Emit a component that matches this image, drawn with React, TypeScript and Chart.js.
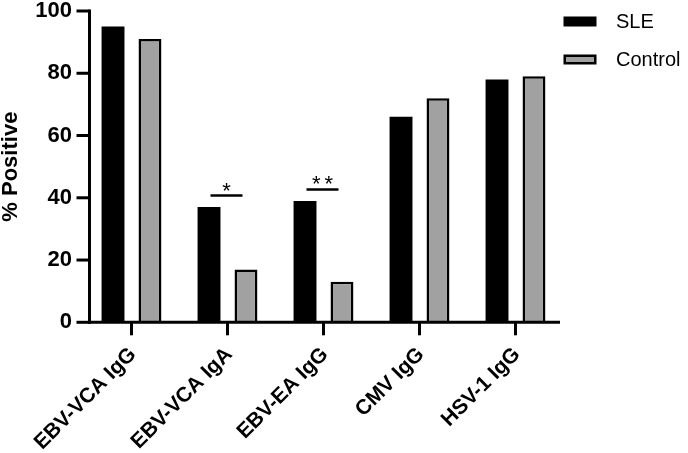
import { useEffect, useRef } from 'react';
import { Chart, registerables } from 'chart.js';

Chart.register(...registerables);

const categories = ['EBV-VCA IgG', 'EBV-VCA IgA', 'EBV-EA IgG', 'CMV IgG', 'HSV-1 IgG'];
const seriesNames = ['SLE', 'Control'];
const sleValues = [95, 37, 39, 66, 78];
const controlValues = [91, 17, 13, 72, 79];
const significance = ['', '*', '**', '', ''];
const yTickValues = [0, 20, 40, 60, 80, 100];
const yAxisTitle = '% Positive';

const FONT = '"Liberation Sans", Arial, Helvetica, sans-serif';
const SLE_COLOR = '#000000';
const CONTROL_COLOR = '#a1a1a1';

const overlayPlugin = {
  id: 'overlay',
  afterDraw(chart: any) {
    const ctx: CanvasRenderingContext2D = chart.ctx;
    const area = chart.chartArea;
    const xs = chart.scales.x;
    const ys = chart.scales.y;
    const axisX = area.left + 6;
    const axisY = ys.getPixelForValue(0);
    const topY = ys.getPixelForValue(yTickValues[yTickValues.length - 1]);

    const seg = (x1: number, y1: number, x2: number, y2: number, w = 3) => {
      ctx.lineWidth = w;
      ctx.beginPath();
      ctx.moveTo(x1, y1);
      ctx.lineTo(x2, y2);
      ctx.stroke();
    };

    ctx.save();
    ctx.strokeStyle = '#000';
    ctx.fillStyle = '#000';
    ctx.lineCap = 'butt';

    // axes
    seg(axisX, topY - 1.5, axisX, axisY + 1.5);
    seg(axisX - 1.5, axisY, area.right - 3.5, axisY);

    // y tick marks
    yTickValues.forEach((v) => {
      const py = ys.getPixelForValue(v);
      seg(axisX - 13, py, axisX, py);
    });

    // x tick marks and labels
    ctx.font = `bold 21px ${FONT}`;
    categories.forEach((c, i) => {
      const px = xs.getPixelForValue(i);
      seg(px, axisY, px, axisY + 13);
      ctx.save();
      ctx.translate(px + 1.5, axisY + 29);
      ctx.rotate(-Math.PI / 4);
      ctx.textAlign = 'right';
      ctx.textBaseline = 'middle';
      ctx.fillText(c, 0, 0);
      ctx.restore();
    });

    // significance markers
    significance.forEach((s, i) => {
      if (!s) return;
      const maxV = Math.max(sleValues[i], controlValues[i]);
      const ly = ys.getPixelForValue(maxV) - 11.5;
      const cx = xs.getPixelForValue(i) - 1;
      seg(cx - 16, ly, cx + 16, ly, 2.5);
      ctx.save();
      ctx.font = `22px ${FONT}`;
      ctx.textAlign = 'center';
      ctx.textBaseline = 'alphabetic';
      (ctx as any).letterSpacing = s.length > 1 ? '4px' : '0px';
      ctx.fillText(s, cx + (s.length > 1 ? 2 : 0), ly + 2);
      ctx.restore();
    });

    // legend
    const lx = 563.5;
    const colors = [SLE_COLOR, CONTROL_COLOR];
    const rows = [21.5, 59.5];
    ctx.font = `20px ${FONT}`;
    ctx.textAlign = 'left';
    ctx.textBaseline = 'middle';
    seriesNames.forEach((name, k) => {
      const cy = rows[k];
      ctx.fillStyle = '#000';
      ctx.fillRect(lx, cy - 5, 33, 10);
      if (k === 1) {
        ctx.fillStyle = colors[k];
        ctx.fillRect(lx + 2.5, cy - 2.5, 28, 5);
      }
      ctx.fillStyle = '#000';
      ctx.fillText(name, 616, cy + 1);
    });

    ctx.restore();
  },
};

export default function App() {
  const ref = useRef<HTMLCanvasElement>(null);

  useEffect(() => {
    const canvas = ref.current;
    if (!canvas) return;
    const chart = new Chart(canvas, {
      type: 'bar',
      data: {
        labels: categories,
        datasets: [
          {
            label: seriesNames[0],
            data: sleValues,
            backgroundColor: SLE_COLOR,
            borderColor: SLE_COLOR,
            borderWidth: 0,
            categoryPercentage: 0.77,
            barPercentage: 0.62,
          },
          {
            label: seriesNames[1],
            data: controlValues,
            backgroundColor: CONTROL_COLOR,
            borderColor: '#000',
            borderWidth: 2.5,
            categoryPercentage: 0.77,
            barPercentage: 0.62,
          },
        ],
      },
      options: {
        responsive: false,
        animation: false,
        devicePixelRatio: 1,
        layout: { padding: { left: 0, right: 124.5, top: 11, bottom: 0 } },
        plugins: {
          legend: { display: false },
          tooltip: { enabled: false },
          title: { display: false },
        },
        scales: {
          x: {
            type: 'category',
            offset: true,
            grid: { display: false, drawTicks: false },
            border: { display: false },
            ticks: { display: false },
            afterFit: (s: any) => {
              s.height = 130.7;
              s.paddingLeft = 0;
              s.paddingRight = 0;
            },
          },
          y: {
            type: 'linear',
            min: 0,
            max: 100,
            grid: { display: false, drawTicks: false },
            border: { display: false },
            ticks: {
              stepSize: 20,
              padding: 11.5,
              color: '#000',
              font: { family: FONT, size: 22, weight: 'bold' },
            },
            title: {
              display: true,
              text: yAxisTitle,
              color: '#000',
              font: { family: FONT, size: 22, weight: 'bold', lineHeight: 1 },
              padding: { top: 0, bottom: 0 },
            },
            afterFit: (s: any) => {
              s.width = 83.5;
              s.paddingTop = 0;
              s.paddingBottom = 0;
            },
          },
        },
      } as any,
      plugins: [overlayPlugin],
    });
    return () => chart.destroy();
  }, []);

  return (
    <div style={{ position: 'absolute', left: 0, top: 0, width: 688, height: 453, background: '#fff' }}>
      <canvas ref={ref} width={688} height={453} style={{ display: 'block' }} />
    </div>
  );
}
